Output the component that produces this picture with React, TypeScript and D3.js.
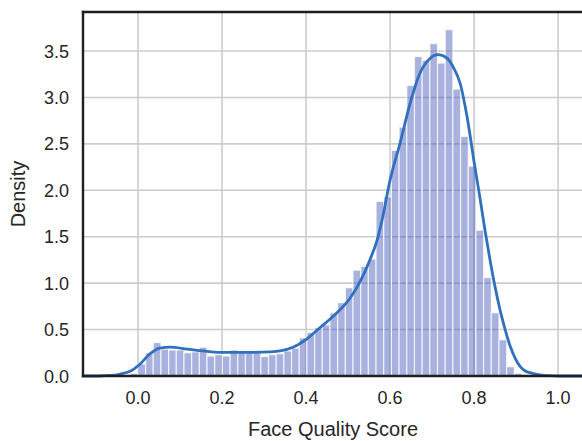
import React, { useEffect, useRef } from "react";
import * as d3 from "d3";

// histogram bins (density), bin width ~0.0183
const binStart = -0.0186;
const binWidth = 0.01829;
const binHeights = [
  0.03, 0.13, 0.25, 0.36, 0.29, 0.28, 0.28, 0.25, 0.26, 0.31,
  0.215, 0.23, 0.215, 0.28, 0.255, 0.25, 0.25, 0.21, 0.23, 0.24,
  0.27, 0.3, 0.41, 0.47, 0.52, 0.55, 0.68, 0.79, 0.95, 1.14,
  1.18, 1.26, 1.88, 1.93, 2.43, 2.68, 3.13, 3.44, 3.4, 3.58,
  3.37, 3.73, 3.09, 2.58, 2.26, 1.57, 1.06, 0.68, 0.39, 0.1,
  0.03,
];

// kde curve
const kdeX = [
  -0.131, -0.102, -0.079, -0.055, -0.043, -0.019, 0.005, 0.029, 0.052, 0.076,
  0.117, 0.155, 0.195, 0.236, 0.274, 0.314, 0.338, 0.369, 0.402, 0.433,
  0.464, 0.505, 0.529, 0.552, 0.569, 0.581, 0.6, 0.624, 0.648, 0.671,
  0.695, 0.714, 0.736, 0.75, 0.767, 0.783, 0.802, 0.814, 0.826, 0.838,
  0.85, 0.862, 0.874, 0.886, 0.898, 0.91, 0.921, 0.933, 0.957, 0.981,
  1.005, 1.04, 1.08,
];
const kdeY = [
  0, 0, 0.004, 0.01, 0.02, 0.05, 0.13, 0.24, 0.3, 0.31,
  0.29, 0.27, 0.255, 0.255, 0.255, 0.26, 0.27, 0.31, 0.4, 0.52,
  0.64, 0.84, 1.02, 1.25, 1.46, 1.68, 2.11, 2.51, 2.94, 3.26,
  3.42, 3.46, 3.42, 3.33, 3.15, 2.8, 2.25, 1.92, 1.57, 1.25,
  0.96, 0.71, 0.5, 0.32, 0.19, 0.1, 0.057, 0.036, 0.012, 0.003,
  0, 0, 0,
];

const xTicks = [0, 0.2, 0.4, 0.6, 0.8, 1.0];
const yTicks = [0, 0.5, 1.0, 1.5, 2.0, 2.5, 3.0, 3.5];

export default function App() {
  const svgRef = useRef(null);

  useEffect(() => {
    document.body.style.margin = "0";
    const svg = d3.select(svgRef.current);
    svg.selectAll("*").remove();

    const left = 83, right = 590, top = 12, bottom = 376;
    const x = d3.scaleLinear().domain([-0.131, 1.076]).range([left, right]);
    const y = d3.scaleLinear().domain([0, 3.92]).range([bottom, top]);
    const font = "'Liberation Sans', Arial, sans-serif";

    // grid
    const grid = svg.append("g");
    grid.selectAll(".vg").data(xTicks).join("line")
      .attr("x1", d => x(d)).attr("x2", d => x(d))
      .attr("y1", top).attr("y2", bottom)
      .attr("stroke", "#cccccc").attr("stroke-width", 1.6);
    grid.selectAll(".hg").data(yTicks).join("line")
      .attr("x1", left).attr("x2", right)
      .attr("y1", d => y(d)).attr("y2", d => y(d))
      .attr("stroke", "#cccccc").attr("stroke-width", 1.6);

    // bars
    svg.append("g").selectAll("rect").data(binHeights).join("rect")
      .attr("x", (d, i) => x(binStart + i * binWidth))
      .attr("width", x(binWidth) - x(0))
      .attr("y", d => y(d))
      .attr("height", d => y(0) - y(d))
      .attr("fill", "rgb(76,94,188)")
      .attr("fill-opacity", 0.48)
      .attr("stroke", "white")
      .attr("stroke-opacity", 0.75)
      .attr("stroke-width", 1.2);

    // kde
    const pts = kdeX.map((v, i) => [v, kdeY[i]]);
    const line = d3.line().x(d => x(d[0])).y(d => y(d[1])).curve(d3.curveMonotoneX);
    svg.append("path").datum(pts)
      .attr("d", line)
      .attr("fill", "none")
      .attr("stroke", "#3070bd")
      .attr("stroke-width", 2.8);

    // spines
    const sp = svg.append("g").attr("stroke", "#1f1f1f").attr("stroke-width", 2.4);
    sp.append("line").attr("x1", left).attr("x2", left).attr("y1", top - 1.2).attr("y2", bottom + 1.2);
    sp.append("line").attr("x1", left - 1.2).attr("x2", right).attr("y1", top).attr("y2", top);
    sp.append("line").attr("x1", left - 1.2).attr("x2", right).attr("y1", bottom).attr("y2", bottom);

    // tick labels
    svg.append("g").selectAll("text").data(xTicks).join("text")
      .attr("x", d => x(d)).attr("y", bottom + 28)
      .attr("text-anchor", "middle")
      .attr("font-family", font).attr("font-size", 18).attr("fill", "#262626")
      .text(d => d.toFixed(1));
    svg.append("g").selectAll("text").data(yTicks).join("text")
      .attr("x", left - 14).attr("y", d => y(d) + 6.5)
      .attr("text-anchor", "end")
      .attr("font-family", font).attr("font-size", 18).attr("fill", "#262626")
      .text(d => d.toFixed(1));

    // axis labels
    svg.append("text")
      .attr("x", 333).attr("y", 436)
      .attr("text-anchor", "middle")
      .attr("font-family", font).attr("font-size", 20).attr("fill", "#262626")
      .text("Face Quality Score");
    svg.append("text")
      .attr("transform", `translate(25, ${(top + bottom) / 2}) rotate(-90)`)
      .attr("text-anchor", "middle")
      .attr("font-family", font).attr("font-size", 20).attr("fill", "#262626")
      .text("Density");
  }, []);

  return (
    <svg ref={svgRef} width={582} height={441} style={{ display: "block" }} />
  );
}
